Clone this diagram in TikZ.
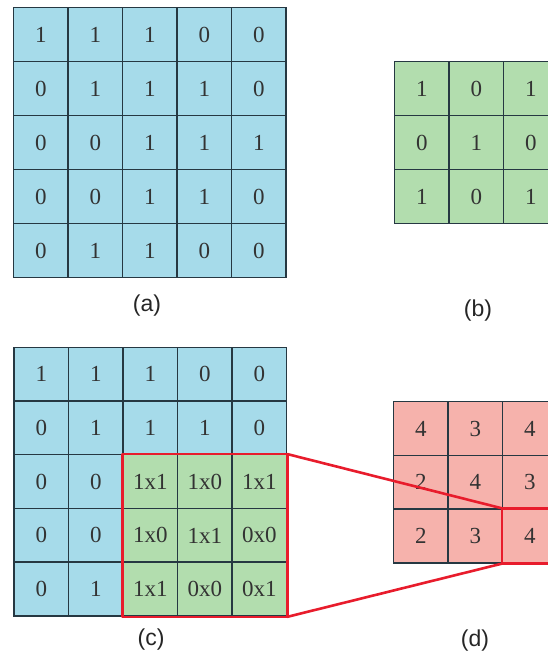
\documentclass[tikz,border=0pt]{standalone}
\usepackage{fontspec}
\setmainfont{Liberation Serif}
\newfontfamily\capfont{Liberation Sans}
\usepackage{xcolor}
\usetikzlibrary{positioning}

\definecolor{inpblue}{RGB}{166,219,234}
\definecolor{kergreen}{RGB}{178,221,174}
\definecolor{outpink}{RGB}{246,178,172}
\definecolor{gridline}{RGB}{38,56,66}
\definecolor{hlred}{RGB}{232,28,44}

\begin{document}
\begin{tikzpicture}[
  x=1pt, y=-1pt,
  every node/.style={inner sep=0pt},
  cell/.style={draw=gridline, line width=1.4pt, minimum width=54.5pt,
               minimum height=54pt, text=black!80,
               font=\fontsize{23}{23}\selectfont},
  ker/.style={cell, fill=kergreen},
  outp/.style={cell, fill=outpink},
  hl/.style={draw=hlred, line width=2.6pt, line join=round},
  panel/.style={font=\capfont\fontsize{23}{23}\selectfont, text=black!85},
]
\useasboundingbox (0,0) rectangle (548,657);
\clip (0,0) rectangle (548,657);

% =============================================================== (a) input
\foreach \row [count=\r] in {{1,1,1,0,0},{0,1,1,1,0},{0,0,1,1,1},
                             {0,0,1,1,0},{0,1,1,0,0}}
  \foreach \v [count=\c] in \row
    \node[cell, fill=inpblue] (a-\r-\c)
      at ({13.5+(\c-0.5)*54.5}, {7.5+(\r-0.5)*54}) {\v};

% =============================================================== (b) kernel
\foreach \row [count=\r] in {{1,0,1},{0,1,0},{1,0,1}}
  \foreach \v [count=\c] in \row
    \node[ker] (b-\r-\c)
      at ({394.5+(\c-0.5)*54.5}, {61.7+(\r-0.5)*54}) {\v};

% =============================================================== (c) kernel over input
\foreach \row [count=\r] in {{1,1,1,0,0},{0,1,1,1,0},{0,0,1x1,1x0,1x1},
                             {0,0,1x0,1x1,0x0},{0,1,1x1,0x0,0x1}}
  \foreach \v [count=\c] in \row {
    \def\cfill{inpblue}
    \ifnum\r>2 \ifnum\c>2 \def\cfill{kergreen}\fi\fi
    \node[cell, fill=\cfill] (c-\r-\c)
      at ({14+(\c-0.5)*54.5}, {347.5+(\r-0.5)*53.7}) {\v};
  }

% =============================================================== (d) feature map
\foreach \row [count=\r] in {{4,3,4},{2,4,3},{2,3,4}}
  \foreach \v [count=\c] in \row
    \node[outp] (d-\r-\c)
      at ({393.5+(\c-0.5)*54.5}, {401.7+(\r-0.5)*53.7}) {\v};

% --- window and where it lands ---
\draw[hl] (c-3-3.north west) rectangle (c-5-5.south east);
\draw[hl] (c-3-5.north east) -- (d-3-3.north west);
\draw[hl] (c-5-5.south east) -- (d-3-3.south west);
\draw[hl] (d-3-3.north west) rectangle (d-3-3.south east);

% --- captions ---
\node[panel] (capa) at (147,306) {(a)};
\node[panel] (capb) at (478,311) {(b)};
\node[panel] (capc) at (151,640) {(c)};
\node[panel] (capd) at (475,641) {(d)};

\end{tikzpicture}
\end{document}
